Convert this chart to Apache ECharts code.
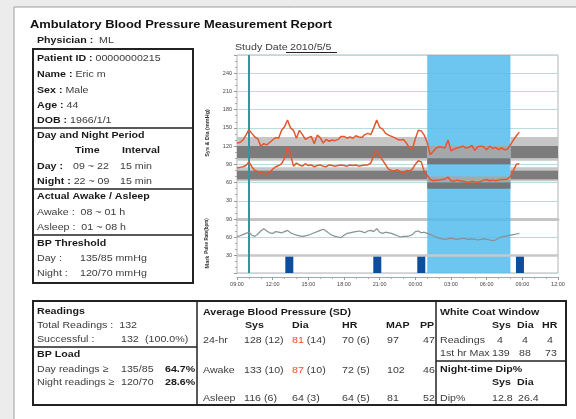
<!DOCTYPE html>
<html>
<head>
<meta charset="utf-8">
<title>Ambulatory Blood Pressure Measurement Report</title>
<script src="https://cdn.jsdelivr.net/npm/echarts@6/dist/echarts.min.js"></script>
<style>
html, body { margin: 0; padding: 0; background: #ececec; }
#main { width: 576px; height: 419px; }
</style>
</head>
<body>
<div id="main"></div>
<script>
// reading times in hours (24+ = next day)
var times = [
  9, 9.25, 9.5, 9.75, 10, 10.25, 10.5, 10.75, 11, 11.25, 11.5, 11.75,
  12, 12.25, 12.5, 12.75, 13, 13.25, 13.5, 13.75, 14, 14.25, 14.5, 14.75,
  15, 15.25, 15.5, 15.75, 16, 16.25, 16.5, 16.75, 17, 17.25, 17.5, 17.75,
  18, 18.25, 18.5, 18.75, 19, 19.25, 19.5, 19.75, 20, 20.25, 20.5, 20.75,
  21, 21.25, 21.5, 21.75, 22, 22.25, 22.5, 22.75, 23, 23.25, 23.5, 23.75,
  24, 24.25, 24.5, 24.75, 25, 25.25, 25.5, 25.75, 26, 26.25, 26.5, 26.75,
  27, 27.25, 27.5, 27.75, 28, 28.25, 28.5, 28.75, 29, 29.25, 29.5, 29.75,
  30, 30.25, 30.5, 30.75, 31, 31.25, 31.5, 31.75, 32, 32.25, 32.5, 32.75
];
var sys = [
  125, 126, 130, 138, 147, 141, 135, 132, 120, 124, 122, 126,
  130, 134, 133, 146, 152, 163, 150, 146, 133, 146, 139, 131,
  134, 136, 124, 138, 134, 125, 131, 128, 130, 129, 131, 136,
  136, 133, 135, 133, 137, 135, 134, 139, 141, 139, 150, 163,
  151, 148, 141, 138, 136, 134, 131, 130, 131, 125, 117, 115,
  132, 146, 145, 138, 126, 106, 111, 117, 119, 118, 117, 130,
  112, 115, 117, 118, 120, 117, 118, 121, 113, 119, 120, 119,
  114, 120, 116, 118, 114, 117, 114, 115, 122, 130, 137, 143
];
var dia = [
  84, 85, 86, 88, 94, 86, 80, 78, 76, 75, 74, 77,
  82, 86, 88, 91, 100, 119, 106, 87, 92, 89, 87, 91,
  88, 89, 86, 88, 89, 87, 86, 89, 88, 87, 88, 89,
  88, 87, 89, 88, 89, 87, 88, 89, 89, 92, 104, 113,
  104, 97, 89, 82, 80, 79, 81, 78, 75, 80, 79, 82,
  90, 96, 94, 78, 72, 65, 63, 64, 64, 65, 66, 69,
  63, 62, 64, 63, 62, 61, 60, 62, 61, 60, 62, 64,
  65, 63, 64, 63, 64, 65, 65, 66, 70, 80, 90, 91
];
var pulse = [
  61, 62, 64, 66, 68, 63, 61, 65, 70, 74, 70, 67,
  66, 69, 68, 67, 69, 71, 67, 65, 63, 62, 61, 62,
  63, 65, 67, 69, 71, 73, 70, 66, 63, 61, 60, 59,
  63, 66, 67, 68, 69, 70, 69, 67, 70, 71, 69, 74,
  68, 66, 68, 67, 66, 64, 62, 60, 61, 61, 62, 64,
  69, 70, 67, 68, 66, 64, 62, 60, 58, 57, 56, 57,
  58, 57, 56, 57, 58, 57, 56, 57, 56, 55, 56, 57,
  56, 55, 54, 55, 58, 60, 61, 62, 63, 64, 65, 66
];
var markTimes = [13.4, 20.8, 24.5, 32.8];
var hourLabels = ['09:00', '12:00', '15:00', '18:00', '21:00', '00:00', '03:00', '06:00', '09:00', '12:00'];
var bpTicks = [30, 60, 90, 120, 150, 180, 210, 240];
var hrTicks = [30, 60, 90];
var studyStart = 10;
var asleep = [25, 32];
var dayLight = [[120, 135], [96, 100], [80, 85], [62, 65]];
var dayDark = [[100, 120], [65, 80]];
var nightLight = [[100, 120], [60, 70]];
var nightDark = [[90, 100], [50, 60]];

var F = 'Liberation Sans, Arial, sans-serif';
var RED = '#e4572e';
var SHADES = ['rgba(84,188,236,0.85)', '#c6c6c6', '#7c7c7c', '#a4a8aa', '#727678'];

function pairs(vals) {
  return times.map(function (t, i) { return [t, vals[i]]; });
}
// band rows: [x0, x1, y0, y1, shade]; drawn in row order
function bands(ranges, x0, x1, shade) {
  return ranges.map(function (r) { return [x0, x1, r[0], r[1], shade]; });
}
function bandSeries(data, grid) {
  return {
    type: 'custom', xAxisIndex: grid, yAxisIndex: grid, z: 1, silent: true, clip: true,
    encode: { x: [0, 1], y: [2, 3] },
    data: data,
    renderItem: function (params, api) {
      var a = api.coord([api.value(0), api.value(2)]);
      var b = api.coord([api.value(1), api.value(3)]);
      return {
        type: 'rect',
        shape: { x: a[0], y: b[1], width: b[0] - a[0], height: a[1] - b[1] },
        style: { fill: SHADES[api.value(4)] }
      };
    }
  };
}
var bpBands = [[asleep[0], asleep[1], 0, 270, 0]].concat(
  bands(dayLight, 9, asleep[0], 1), bands(dayLight, asleep[1], 36, 1),
  bands(dayDark, 9, asleep[0], 2), bands(dayDark, asleep[1], 36, 2),
  bands(nightLight, asleep[0], asleep[1], 3),
  bands(nightDark, asleep[0], asleep[1], 4)
);
var hrBands = [[asleep[0], asleep[1], 0, 90, 0]];
var tealLine = {
  silent: true, symbol: 'none', label: { show: false },
  lineStyle: { color: '#2a9a9a', width: 2, type: 'solid' },
  data: [{ xAxis: studyStart }]
};

// text helpers
var SX = 1.12;
function T(x, y, s, o) {
  o = o || {};
  var size = o.size || 9.5;
  return {
    type: 'text', x: x, y: y, z: 10, scaleX: SX,
    style: {
      text: s, fontSize: size, fontFamily: F, fontWeight: o.bold ? 'bold' : 'normal',
      fill: o.color || '#3c3c3c', verticalAlign: 'middle', align: 'left',
      rich: {
        b: { fontWeight: 'bold', fontSize: size, fontFamily: F, fill: '#1a1a1a' },
        r: { fontSize: size, fontFamily: F, fill: '#e8502a' }
      }
    }
  };
}
function B(x, y, s) { return T(x, y, s, { bold: true, color: '#1a1a1a' }); }
function L(x1, y1, x2, y2, w) {
  return { type: 'line', z: 10, shape: { x1: x1, y1: y1, x2: x2, y2: y2 }, style: { stroke: '#222', lineWidth: w || 1.5 } };
}
function R(x, y, w, h) {
  return { type: 'rect', z: 10, shape: { x: x, y: y, width: w, height: h }, style: { fill: 'none', stroke: '#222', lineWidth: 2 } };
}
function V(x, y, s, size) {
  return {
    type: 'text', x: x, y: y, z: 10, rotation: Math.PI / 2,
    style: { text: s, fontSize: size || 5.5, fontFamily: F, fontWeight: 'bold', fill: '#333', align: 'center', verticalAlign: 'middle' }
  };
}

var g = [
  { type: 'rect', z: -10, shape: { x: 14, y: 7, width: 620, height: 450 }, style: { fill: '#fff', stroke: '#9c9c9c', lineWidth: 1 } },
  T(30, 25, 'Ambulatory Blood Pressure Measurement Report', { bold: true, size: 11.5, color: '#111' }),
  T(37, 40, '{b|Physician :}  ML'),
  T(235, 47, 'Study Date'),
  T(290, 47, '2010/5/5'),
  L(286, 52.5, 337, 52.5, 1),
  // patient box
  R(33, 49, 160, 234),
  L(33, 128, 193, 128), L(33, 189, 193, 189), L(33, 235, 193, 235),
  T(37, 58, '{b|Patient ID :} 00000000215'),
  T(37, 74, '{b|Name :} Eric m'),
  T(37, 90, '{b|Sex :} Male'),
  T(37, 105, '{b|Age :} 44'),
  T(37, 120, '{b|DOB :} 1966/1/1'),
  B(37, 135, 'Day and Night Period'),
  B(75, 150, 'Time'),
  B(122, 150, 'Interval'),
  T(37, 166, '{b|Day :}'), T(73, 166, '09 ~ 22'), T(120, 166, '15 min'),
  T(37, 181, '{b|Night :} 22 ~ 09'), T(120, 181, '15 min'),
  B(37, 196, 'Actual Awake / Asleep'),
  T(37, 212, 'Awake :  08 ~ 01 h'),
  T(37, 227, 'Asleep :  01 ~ 08 h'),
  B(37, 243, 'BP Threshold'),
  T(37, 258, 'Day :'), T(80, 258, '135/85 mmHg'),
  T(37, 273, 'Night :'), T(80, 273, '120/70 mmHg'),
  // axis titles
  V(207, 133, 'Sys & Dia (mmHg)'),
  V(207, 236, 'Pulse Rate(bpm)', 4.5),
  V(207, 262, 'Mark'),
  // summary table
  R(33, 301, 533, 104),
  L(197, 301, 197, 405), L(436, 301, 436, 405),
  L(33, 347, 197, 347), L(436, 361, 566, 361),
  B(37, 311, 'Readings'),
  T(37, 325, 'Total Readings :  132'),
  T(37, 339, 'Successful :'), T(121, 339, '132'), T(145, 339, '(100.0%)'),
  B(37, 354, 'BP Load'),
  T(37, 369, 'Day readings \u2265'), T(121, 369, '135/85'), B(165, 369, '64.7%'),
  T(37, 382, 'Night readings \u2265'), T(121, 382, '120/70'), B(165, 382, '28.6%'),
  B(203, 312, 'Average Blood Pressure (SD)'),
  B(245, 325, 'Sys'), B(292, 325, 'Dia'), B(342, 325, 'HR'), B(386, 325, 'MAP'), B(420, 325, 'PP'),
  T(203, 340, '24-hr'), T(244, 340, '128 (12)'), T(292, 340, '{r|81} (14)'), T(342, 340, '70 (6)'), T(387, 340, '97'), T(423, 340, '47'),
  T(203, 370, 'Awake'), T(244, 370, '133 (10)'), T(292, 370, '{r|87} (10)'), T(342, 370, '72 (5)'), T(387, 370, '102'), T(423, 370, '46'),
  T(203, 398, 'Asleep'), T(244, 398, '116 (6)'), T(292, 398, '64 (3)'), T(342, 398, '64 (5)'), T(387, 398, '81'), T(423, 398, '52'),
  B(440, 312, 'White Coat Window'),
  B(492, 325, 'Sys'), B(517, 325, 'Dia'), B(542, 325, 'HR'),
  T(440, 340, 'Readings'), T(497, 340, '4'), T(522, 340, '4'), T(547, 340, '4'),
  T(440, 353, '1st hr Max'), T(492, 353, '139'), T(519, 353, '88'), T(545, 353, '73'),
  B(440, 369, 'Night-time Dip%'),
  B(492, 382, 'Sys'), B(517, 382, 'Dia'),
  T(440, 398, 'Dip%'), T(492, 398, '12.8'), T(518, 398, '26.4')
];

var chart = echarts.init(document.getElementById('main'));
var axisText = { fontSize: 5.5, color: '#444', fontFamily: F };
var option = {
  backgroundColor: '#ececec',
  animation: false,
  grid: [
    { left: 237, top: 55, width: 321, height: 164, show: true, backgroundColor: '#fff', borderColor: '#b4b4b4', borderWidth: 1 },
    { left: 237, top: 219, width: 321, height: 54, show: true, backgroundColor: '#fff', borderColor: '#b4b4b4', borderWidth: 1 }
  ],
  xAxis: [
    {
      gridIndex: 0, type: 'value', min: 9, max: 36, interval: 3,
      axisLine: { onZero: false, lineStyle: { color: '#c4c4c4', width: 3 } },
      axisTick: { show: false }, axisLabel: { show: false }, splitLine: { show: false }
    },
    {
      gridIndex: 1, type: 'value', min: 9, max: 36, interval: 3, offset: 4,
      axisLine: { onZero: false, lineStyle: { color: '#a8a8a8', width: 1 } },
      axisTick: { length: 3, lineStyle: { color: '#999' } },
      minorTick: { show: true, splitNumber: 3, length: 2, lineStyle: { color: '#aaa' } },
      axisLabel: Object.assign({ margin: 4, formatter: function (v) { return hourLabels[(v - 9) / 3] || ''; } }, axisText),
      splitLine: { show: false }
    }
  ],
  yAxis: [
    {
      gridIndex: 0, type: 'value', min: 0, max: 270, interval: 30,
      axisLine: { show: false },
      axisTick: { show: true, length: 3, lineStyle: { color: '#999' } },
      minorTick: { show: true, splitNumber: 3, length: 2, lineStyle: { color: '#aaa' } },
      axisLabel: Object.assign({ margin: 5, formatter: function (v) { return bpTicks.indexOf(v) >= 0 ? v : ''; } }, axisText),
      splitLine: { lineStyle: { color: '#b9dcdc' } }
    },
    {
      gridIndex: 1, type: 'value', min: 0, max: 90, interval: 30,
      axisLine: { show: false },
      axisTick: { show: true, length: 3, lineStyle: { color: '#999' } },
      minorTick: { show: true, splitNumber: 3, length: 2, lineStyle: { color: '#aaa' } },
      axisLabel: Object.assign({ margin: 5, formatter: function (v) { return hrTicks.indexOf(v) >= 0 ? v : ''; } }, axisText),
      splitLine: { lineStyle: { color: '#b9dcdc' } }
    }
  ],
  series: [
    bandSeries(bpBands, 0),
    {
      name: 'Sys', type: 'line', xAxisIndex: 0, yAxisIndex: 0, z: 5, showSymbol: false,
      data: pairs(sys), lineStyle: { color: RED, width: 1.5 }, itemStyle: { color: RED },
      markLine: tealLine
    },
    {
      name: 'Dia', type: 'line', xAxisIndex: 0, yAxisIndex: 0, z: 5, showSymbol: false,
      data: pairs(dia), lineStyle: { color: RED, width: 1.5 }, itemStyle: { color: RED }
    },
    bandSeries(hrBands, 1),
    {
      type: 'line', xAxisIndex: 1, yAxisIndex: 1, data: [], z: 2, silent: true,
      markLine: {
        silent: true, symbol: 'none', label: { show: false },
        lineStyle: { color: '#c8c8c8', width: 2.5, type: 'solid' },
        data: [{ yAxis: 30 }]
      }
    },
    {
      name: 'Pulse', type: 'line', xAxisIndex: 1, yAxisIndex: 1, z: 5, showSymbol: false,
      data: pairs(pulse), lineStyle: { color: '#8e8e8e', width: 1.2 }, itemStyle: { color: '#8e8e8e' }
    },
    {
      name: 'Mark', type: 'bar', xAxisIndex: 1, yAxisIndex: 1, z: 4, barWidth: 8,
      data: markTimes.map(function (t) { return [t, 30]; }),
      itemStyle: { color: '#0e4d9b' },
      markLine: tealLine
    }
  ],
  graphic: { elements: g }
};
chart.setOption(option);
</script>
</body>
</html>
